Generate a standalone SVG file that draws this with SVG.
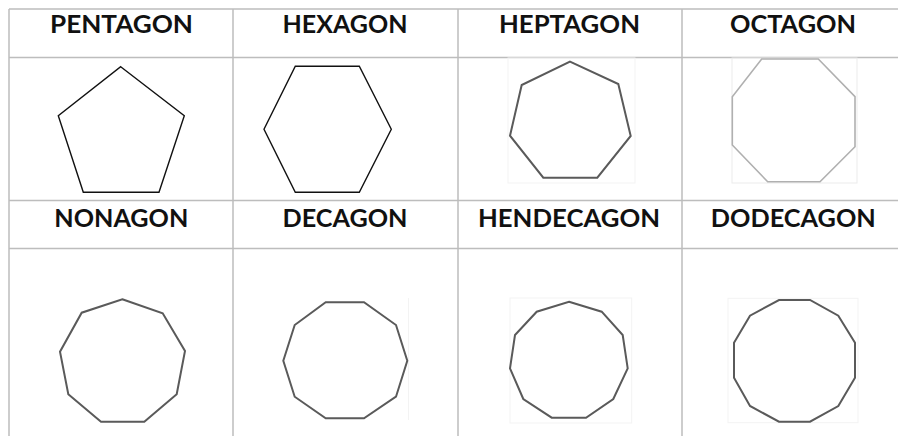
<svg xmlns="http://www.w3.org/2000/svg" width="898" height="436" viewBox="0 0 898 436">
<style>
.grid{stroke:#bdbdbd;stroke-width:1.5;fill:none}
.lbl{font-family:Lato,"Open Sans","Liberation Sans",sans-serif;font-weight:bold;font-size:24px;fill:#111;text-anchor:middle}
.blk{fill:#fff;stroke:#111;stroke-width:1.4;stroke-linejoin:miter}
.gry{fill:#fff;stroke:#5a5a5a;stroke-width:2;stroke-linejoin:miter}
.lgt{fill:#fff;stroke:#b0b0b0;stroke-width:1.6}
.box{fill:none;stroke:#f3f3f3;stroke-width:1}
</style>
<rect width="898" height="436" fill="#fff"/>
<g id="grid">
<line class="grid" x1="9" y1="9" x2="898" y2="9"/>
<line class="grid" x1="9" y1="57.5" x2="898" y2="57.5"/>
<line class="grid" x1="9" y1="200.5" x2="898" y2="200.5"/>
<line class="grid" x1="9" y1="248.5" x2="898" y2="248.5"/>
<line class="grid" x1="9" y1="9" x2="9" y2="436"/>
<line class="grid" x1="233" y1="9" x2="233" y2="436"/>
<line class="grid" x1="458" y1="9" x2="458" y2="436"/>
<line class="grid" x1="682" y1="9" x2="682" y2="436"/>
</g>
<g id="pentagon">
<text class="lbl" x="121.5" y="33" textLength="143" lengthAdjust="spacingAndGlyphs">PENTAGON</text>
<polygon class="blk" points="120.7,66.7 184.3,115.7 159,192.3 83.3,192.3 58.3,115.7"/>
</g>
<g id="hexagon">
<text class="lbl" x="345" y="33" textLength="125" lengthAdjust="spacingAndGlyphs">HEXAGON</text>
<polygon class="blk" points="295.3,66.3 359.3,66.3 391.3,129.3 359.3,192.3 295.3,192.3 264,129.3"/>
</g>
<g id="heptagon">
<text class="lbl" x="569.5" y="33" textLength="141" lengthAdjust="spacingAndGlyphs">HEPTAGON</text>
<rect class="box" x="508" y="58" width="127" height="125"/>
<polygon class="gry" points="570,61.7 618.3,84 630.7,136 597.3,177.7 543.3,177.7 510,135.7 521.7,85"/>
</g>
<g id="octagon">
<text class="lbl" x="793" y="33" textLength="126" lengthAdjust="spacingAndGlyphs">OCTAGON</text>
<rect class="box" x="732" y="58" width="125" height="125" style="stroke:#ebebeb"/>
<polygon class="lgt" points="761.7,59 818.3,59 855,96.7 855,146.7 820,181.7 767.7,181.7 732.3,145 732.3,96.7"/>
</g>
<g id="nonagon">
<text class="lbl" x="121.3" y="227" textLength="134" lengthAdjust="spacingAndGlyphs">NONAGON</text>
<polygon class="gry" points="122.3,299.3 162.7,313.3 185,351 176.7,394.3 144.3,421.7 101,421.7 68.3,394.3 60,351.7 81.7,312.7"/>
</g>
<g id="decagon">
<text class="lbl" x="345" y="227" textLength="125" lengthAdjust="spacingAndGlyphs">DECAGON</text>
<line x1="408.5" y1="298" x2="408.5" y2="420" stroke="#f3f3f3" stroke-width="1"/>
<polygon class="gry" points="325.7,302.3 364,302.3 396,325 407.3,360.7 396,396.7 364,418.3 325.7,418.3 294.7,396.7 283.3,360.7 294.7,325"/>
</g>
<g id="hendecagon">
<text class="lbl" x="569" y="227" textLength="182" lengthAdjust="spacingAndGlyphs">HENDECAGON</text>
<rect class="box" x="510" y="298" width="121.7" height="125"/>
<polygon class="gry" points="569,301.7 601.7,311.7 622.7,335 627.7,368.3 613.3,399 586,417.7 551.7,417.7 523.3,399 510,368.3 515,335 536.7,311.7"/>
</g>
<g id="dodecagon">
<text class="lbl" x="793.3" y="227" textLength="165" lengthAdjust="spacingAndGlyphs">DODECAGON</text>
<rect class="box" x="728" y="298.3" width="130" height="124.4"/>
<polygon class="gry" points="779,300 810,300 838.3,315.7 855,342.7 855,377.7 838.3,406 810,421.7 779,421.7 750,406 734,377.7 734,342.7 750,315.7"/>
</g>
</svg>
